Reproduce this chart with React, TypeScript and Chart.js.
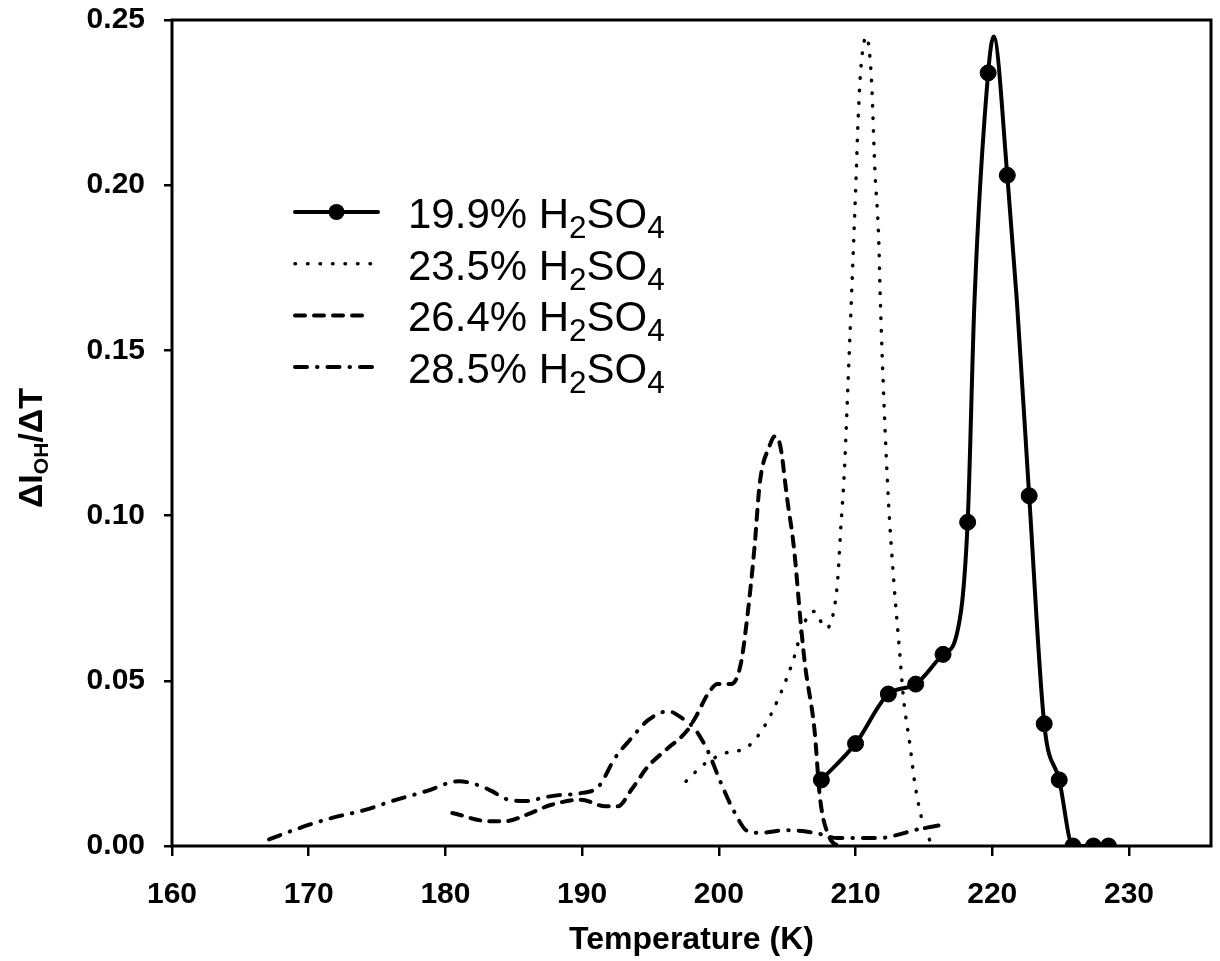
import React, { useEffect, useRef } from "react";
import { Chart, registerables } from "chart.js";

Chart.register(...registerables);

// ---- axis settings ----
const xTicks = [160, 170, 180, 190, 200, 210, 220, 230];
const yTicks = [0, 0.05, 0.1, 0.15, 0.2, 0.25];
const X_MIN = 160;
const X_MAX = 236;
const Y_MIN = 0;
const Y_MAX = 0.25;

const xTitle = "Temperature (K)";
const legendPercents = ["19.9%", "23.5%", "26.4%", "28.5%"];

// ---- 19.9% H2SO4 (solid with markers) ----
const temp199 = [207.5, 210.0, 212.4, 214.4, 216.4, 217.4, 218.2, 218.7, 219.7, 220.1, 221.1, 221.8, 222.7, 223.8, 224.9, 225.9, 227.4, 228.5];
const val199 = [0.020, 0.031, 0.046, 0.049, 0.058, 0.064, 0.098, 0.165, 0.234, 0.245, 0.203, 0.165, 0.106, 0.037, 0.020, 0.0, 0.0, 0.0];
const marker199 = [1, 1, 1, 1, 1, 0, 1, 0, 1, 0, 1, 0, 1, 1, 1, 1, 1, 1];

// ---- 23.5% H2SO4 (dotted) ----
const temp235 = [197.6, 199.0, 200.4, 202.1, 203.3, 204.5, 205.5, 206.2, 207.0, 207.8, 208.3, 208.7, 208.9, 209.2, 209.4, 209.7, 210.0, 210.2, 210.4, 210.8, 211.0, 211.2, 211.4, 211.7, 211.8, 212.1, 212.4, 212.8, 213.2, 213.5, 214.0, 214.3, 214.8, 215.4, 215.7];
const val235 = [0.0196, 0.025, 0.028, 0.030, 0.036, 0.046, 0.057, 0.067, 0.071, 0.066, 0.069, 0.081, 0.095, 0.115, 0.135, 0.166, 0.198, 0.221, 0.236, 0.245, 0.241, 0.229, 0.206, 0.183, 0.167, 0.132, 0.105, 0.080, 0.060, 0.045, 0.030, 0.020, 0.009, 0.002, 0.0];

// ---- 26.4% H2SO4 (dashed) ----
const temp264 = [180.5, 183.2, 184.4, 185.9, 187.7, 189.9, 191.7, 192.6, 193.6, 194.8, 196.1, 197.7, 198.3, 199.2, 199.9, 200.9, 201.6, 202.1, 202.6, 203.0, 203.7, 204.1, 204.5, 205.0, 205.5, 206.0, 206.3, 207.0, 207.4, 208.1, 208.7];
const val264 = [0.010, 0.0075, 0.0075, 0.0094, 0.0124, 0.014, 0.012, 0.012, 0.017, 0.024, 0.029, 0.035, 0.039, 0.046, 0.049, 0.049, 0.055, 0.070, 0.090, 0.110, 0.121, 0.124, 0.121, 0.105, 0.090, 0.067, 0.055, 0.035, 0.0145, 0.0025, 0.0];

// ---- 28.5% H2SO4 (dash-dot) ----
const temp285 = [167.1, 169.3, 171.7, 174.2, 176.1, 178.6, 181.0, 182.4, 183.4, 184.6, 185.9, 187.3, 188.3, 189.9, 191.2, 192.4, 193.6, 194.8, 196.3, 197.2, 198.2, 199.2, 200.1, 201.1, 202.1, 203.0, 205.0, 207.0, 208.7, 210.6, 211.8, 213.0, 214.3, 216.2];
const val285 = [0.002, 0.0054, 0.0085, 0.011, 0.0136, 0.0166, 0.0196, 0.0184, 0.0166, 0.014, 0.0136, 0.0148, 0.0154, 0.016, 0.018, 0.0266, 0.0326, 0.038, 0.0408, 0.039, 0.0356, 0.0287, 0.0196, 0.0106, 0.0045, 0.004, 0.0048, 0.004, 0.0024, 0.0024, 0.0024, 0.0033, 0.0048, 0.0063];

const FONT = "'Liberation Sans', Arial, sans-serif";

const styles = [
  { dash: [] as number[], width: 4, cap: "round" as CanvasLineCap, marker: true },
  { dash: [0.5, 12], width: 3.5, cap: "round" as CanvasLineCap, marker: false },
  { dash: [10, 9], width: 4, cap: "round" as CanvasLineCap, marker: false },
  { dash: [12, 10, 0.5, 10], width: 4, cap: "round" as CanvasLineCap, marker: false },
];

function toPoints(xs: number[], ys: number[]) {
  return xs.map((x, i) => ({ x, y: ys[i] }));
}

type Part = { t: string; sub?: boolean };

function measureRich(ctx: CanvasRenderingContext2D, parts: Part[], size: number, weight: string, subScale: number) {
  let w = 0;
  for (const p of parts) {
    ctx.font = `${weight} ${p.sub ? size * subScale : size}px ${FONT}`;
    w += ctx.measureText(p.t).width;
  }
  return w;
}

function drawRich(
  ctx: CanvasRenderingContext2D,
  parts: Part[],
  x: number,
  y: number,
  size: number,
  weight: string,
  subScale: number,
  subShift: number,
  align: "left" | "center"
) {
  let cx = x;
  if (align === "center") cx = x - measureRich(ctx, parts, size, weight, subScale) / 2;
  ctx.textAlign = "left";
  ctx.textBaseline = "alphabetic";
  for (const p of parts) {
    const s = p.sub ? size * subScale : size;
    ctx.font = `${weight} ${s}px ${FONT}`;
    ctx.fillText(p.t, cx, p.sub ? y + size * subShift : y);
    cx += ctx.measureText(p.t).width;
  }
}

const decorPlugin = {
  id: "decor",
  afterDraw(chart: any) {
    const ctx: CanvasRenderingContext2D = chart.ctx;
    const a = chart.chartArea;
    ctx.save();
    ctx.fillStyle = "#000";
    ctx.strokeStyle = "#000";

    // frame
    ctx.setLineDash([]);
    ctx.lineWidth = 3;
    ctx.strokeRect(a.left, a.top, a.right - a.left, a.bottom - a.top);

    // legend
    const lx0 = 295;
    const lx1 = 378;
    const textX = 408;
    const baseY = 228;
    const rowH = 51.7;
    legendPercents.forEach((pct, i) => {
      const st = styles[i];
      const by = baseY + i * rowH;
      const ly = by - 16;
      ctx.setLineDash(st.dash);
      ctx.lineCap = st.cap;
      ctx.lineWidth = st.width;
      ctx.beginPath();
      ctx.moveTo(lx0, ly);
      ctx.lineTo(i === 2 ? 370 : lx1, ly);
      ctx.stroke();
      if (st.marker) {
        ctx.setLineDash([]);
        ctx.beginPath();
        ctx.arc((lx0 + lx1) / 2, ly, 8, 0, Math.PI * 2);
        ctx.fill();
      }
      ctx.setLineDash([]);
      drawRich(
        ctx,
        [{ t: pct + " H" }, { t: "2", sub: true }, { t: "SO" }, { t: "4", sub: true }],
        textX,
        by,
        42,
        "normal",
        0.75,
        0.24,
        "left"
      );
    });

    // y-axis title (rotated)
    ctx.save();
    ctx.translate(42, 448);
    ctx.rotate(-Math.PI / 2);
    drawRich(
      ctx,
      [{ t: "\u0394I" }, { t: "OH", sub: true }, { t: "/\u0394T" }],
      0,
      0,
      34,
      "bold",
      0.62,
      0.18,
      "center"
    );
    ctx.restore();

    // x-axis title
    ctx.font = `bold 32px ${FONT}`;
    ctx.textAlign = "center";
    ctx.textBaseline = "middle";
    ctx.fillText(xTitle, (a.left + a.right) / 2, 940);

    ctx.restore();
  },
};

export default function App() {
  const ref = useRef<HTMLCanvasElement | null>(null);

  useEffect(() => {
    document.body.style.margin = "0";
    const canvas = ref.current;
    if (!canvas) return;

    const base = (i: number) => ({
      borderColor: "#000",
      backgroundColor: "#000",
      borderWidth: styles[i].width,
      borderDash: styles[i].dash,
      borderCapStyle: styles[i].cap,
      borderJoinStyle: "round" as CanvasLineJoin,
      cubicInterpolationMode: "monotone" as const,
      fill: false,
      showLine: true,
    });

    const chart = new Chart(canvas, {
      type: "line",
      data: {
        datasets: [
          {
            ...base(0),
            label: "19.9% H2SO4",
            data: toPoints(temp199, val199),
            pointRadius: (c: any) => (marker199[c.dataIndex] ? 8 : 0),
            pointBackgroundColor: "#000",
            pointBorderColor: "#000",
            pointBorderWidth: 1,
          },
          { ...base(1), label: "23.5% H2SO4", data: toPoints(temp235, val235), pointRadius: 0 },
          { ...base(2), label: "26.4% H2SO4", data: toPoints(temp264, val264), pointRadius: 0 },
          { ...base(3), label: "28.5% H2SO4", data: toPoints(temp285, val285), pointRadius: 0 },
        ],
      },
      options: {
        responsive: false,
        animation: false,
        devicePixelRatio: 1,
        events: [],
        layout: { padding: { left: 0, right: 7, top: 20, bottom: 0 } },
        plugins: {
          legend: { display: false },
          tooltip: { enabled: false },
          title: { display: false },
        },
        scales: {
          x: {
            type: "linear",
            min: X_MIN,
            max: X_MAX,
            afterBuildTicks: (scale: any) => {
              scale.ticks = xTicks.map((v) => ({ value: v }));
            },
            afterFit: (scale: any) => {
              scale.height = 961 - 846;
              scale.paddingLeft = 0;
              scale.paddingRight = 0;
            },
            grid: {
              drawOnChartArea: false,
              drawTicks: true,
              tickLength: 10,
              color: "#000",
              lineWidth: 2.5,
            },
            border: { display: false },
            ticks: {
              color: "#000",
              padding: 21,
              maxRotation: 0,
              autoSkip: false,
              font: { family: FONT, size: 30, weight: "bold" },
              callback: (v: any) => String(v),
            },
          },
          y: {
            type: "linear",
            min: Y_MIN,
            max: Y_MAX,
            afterBuildTicks: (scale: any) => {
              scale.ticks = yTicks.map((v) => ({ value: v }));
            },
            afterFit: (scale: any) => {
              scale.width = 172;
              scale.paddingTop = 0;
              scale.paddingBottom = 0;
            },
            grid: {
              drawOnChartArea: false,
              drawTicks: true,
              tickLength: 8,
              color: "#000",
              lineWidth: 2.5,
            },
            border: { display: false },
            ticks: {
              color: "#000",
              padding: 19,
              autoSkip: false,
              font: { family: FONT, size: 30, weight: "bold" },
              callback: (v: any) => Number(v).toFixed(2),
            },
          },
        },
      },
      plugins: [decorPlugin],
    } as any);

    return () => chart.destroy();
  }, []);

  return (
    <div style={{ width: 1220, height: 961, background: "#fff" }}>
      <canvas ref={ref} width={1220} height={961} style={{ display: "block" }} />
    </div>
  );
}
